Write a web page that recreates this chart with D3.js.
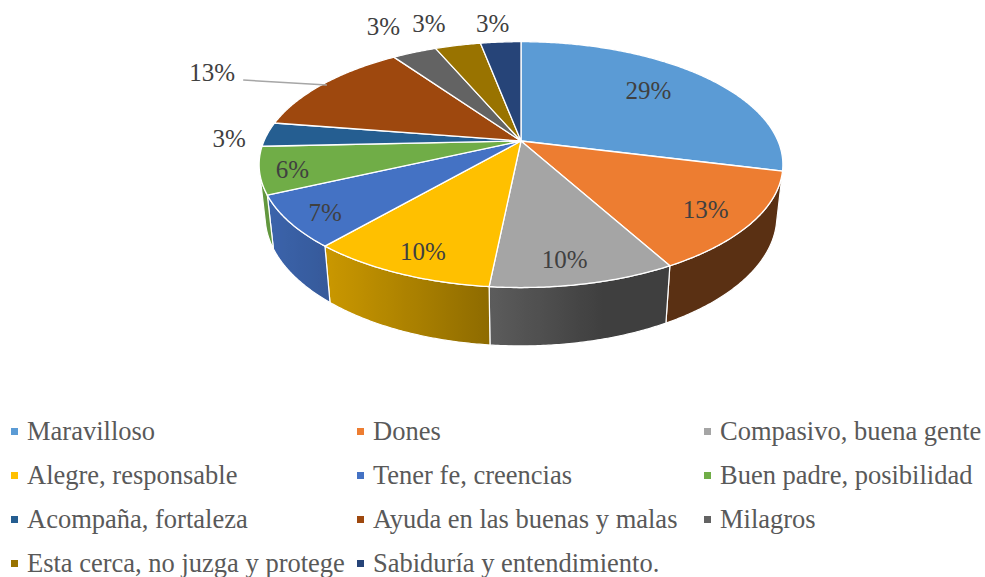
<!DOCTYPE html>
<html>
<head>
<meta charset="utf-8" />
<title>Pie 3D</title>
<script src="https://d3js.org/d3.v7.min.js"></script>
<style>
    body { margin: 0; background: #fff; }
</style>
</head>
<body>
<svg id="chart" width="985" height="577"></svg>
<script>
// data (labels are the rounded shares)
var categories = ["Maravilloso", "Dones", "Compasivo, buena gente", "Alegre, responsable",
    "Tener fe, creencias", "Buen padre, posibilidad", "Acompaña, fortaleza",
    "Ayuda en las buenas y malas", "Milagros", "Esta cerca, no juzga y protege",
    "Sabiduría y entendimiento."];
var values = [28.9, 13.1, 9.6, 9.7, 6.8, 6.2, 3.2, 12.8, 3.3, 3.4, 3.0];
var colors = ["#5B9BD5", "#ED7D31", "#A5A5A5", "#FFC000", "#4472C4", "#70AD47",
    "#255E91", "#9E480E", "#636363", "#997300", "#264478"];

var FONT = "'Liberation Serif'";

// layout
var svg = d3.select("#chart");
var cx = 521, cy = 141, R = 257, depth = 58.4, D = 1188;
var sinP = 0.4607, cosP = Math.sqrt(1 - sinP * sinP);

// label placement: radius factor + small nudges (Excel moved the crowded ones)
var labelRadius = [0.82, 0.82, 0.82, 0.82, 0.82, 0.82, 1, 1, 1, 1, 1];
var labelNudge = [[-24, 4], [0, 3], [-6, 6], [-1, 6], [-10, 7], [-16, 5],
    [-38, 4], [-111, -11.5], [-31, -26], [-29, -22], [-8, -18.5]];

function project(a, r, h) {
    var X = r * Math.sin(a), Z = r * Math.cos(a);
    var yc = h * cosP + Z * sinP;
    var zc = Z * cosP - h * sinP;
    var s = D / (D + zc);
    return [cx + X * s, cy - yc * s];
}

function shade(c, a) {
    //light comes from the left / front-left
    var k = 0.38 + 0.5 * Math.max(0, Math.cos(a - 255 * Math.PI / 180));
    var col = d3.rgb(c);
    return d3.rgb(col.r * k, col.g * k, col.b * k).formatHex();
}

var pie = d3.pie().sort(null).value(function (d) { return d; });
var arcs = pie(values);
var line = d3.line();
var step = Math.PI / 360;

function samples(a0, a1) {
    var n = Math.max(2, Math.ceil((a1 - a0) / step));
    return d3.range(n + 1).map(function (i) { return a0 + (a1 - a0) * i / n; });
}

// visible part of the outer wall
var visA = Math.acos(-R / (D * cosP));
var visB = 2 * Math.PI - visA;

var defs = svg.append("defs");
var gWalls = svg.append("g");
var gTop = svg.append("g");
var gLabels = svg.append("g");

arcs.forEach(function (d, i) {
    var a0 = Math.max(d.startAngle, visA), a1 = Math.min(d.endAngle, visB);
    if (a1 <= a0) return;
    var angs = samples(a0, a1);
    var topPts = angs.map(function (a) { return project(a, R, 0); });
    var botPts = angs.map(function (a) { return project(a, R, -depth); }).reverse();
    var xs = topPts.map(function (p) { return p[0]; });
    var gx1 = xs[0], gx2 = xs[xs.length - 1];
    var grad = defs.append("linearGradient")
        .attr("id", "wall" + i)
        .attr("gradientUnits", "userSpaceOnUse")
        .attr("x1", gx1).attr("x2", gx2).attr("y1", 0).attr("y2", 0);
    d3.range(0, angs.length, 4).concat([angs.length - 1]).forEach(function (j) {
        grad.append("stop")
            .attr("offset", (gx2 === gx1) ? 0 : (xs[j] - gx1) / (gx2 - gx1))
            .attr("stop-color", shade(colors[i], angs[j]));
    });
    gWalls.append("path")
        .attr("d", line(topPts.concat(botPts)) + "Z")
        .attr("fill", "url(#wall" + i + ")")
        .attr("stroke", "#fff")
        .attr("stroke-width", 1.2)
        .attr("stroke-linejoin", "round");
});

arcs.forEach(function (d, i) {
    var pts = [[cx, cy]].concat(samples(d.startAngle, d.endAngle).map(function (a) {
        return project(a, R, 0);
    }));
    gTop.append("path")
        .attr("d", line(pts) + "Z")
        .attr("fill", colors[i])
        .attr("stroke", "#fff")
        .attr("stroke-width", 1.3)
        .attr("stroke-linejoin", "round");
});

// data labels
arcs.forEach(function (d, i) {
    var mid = (d.startAngle + d.endAngle) / 2;
    var p = project(mid, R * labelRadius[i], 0);
    var lx = p[0] + labelNudge[i][0], ly = p[1] + labelNudge[i][1];
    var t = gLabels.append("text")
        .attr("x", lx).attr("y", ly)
        .attr("dy", "0.34em")
        .attr("text-anchor", "middle")
        .style("font-family", FONT)
        .style("font-size", "25px")
        .attr("fill", "#404040")
        .text(Math.round(d.data) + "%");
    if (i === 7) {
        //leader line for the big outside label
        var w = t.node().getComputedTextLength();
        var end = project(mid, R * 0.98, 0);
        gLabels.append("line")
            .attr("x1", lx + w / 2 + 8).attr("y1", ly + 7.5)
            .attr("x2", end[0]).attr("y2", end[1])
            .attr("stroke", "#a6a6a6")
            .attr("stroke-width", 1.5);
    }
});

// legend
var colX = [11, 357, 704], rowY = [440, 484, 528, 572];
var legend = svg.append("g").selectAll("g")
    .data(categories)
    .enter().append("g")
    .attr("transform", function (d, i) {
        return "translate(" + colX[i % 3] + "," + rowY[Math.floor(i / 3)] + ")";
    });
legend.append("rect")
    .attr("x", 0).attr("y", -12)
    .attr("width", 7).attr("height", 7)
    .attr("fill", function (d, i) { return colors[i]; });
legend.append("text")
    .attr("x", 16).attr("y", 0)
    .style("font-family", FONT)
    .style("font-size", "26.5px")
    .attr("fill", "#595959")
    .text(function (d) { return d; });
</script>
</body>
</html>
